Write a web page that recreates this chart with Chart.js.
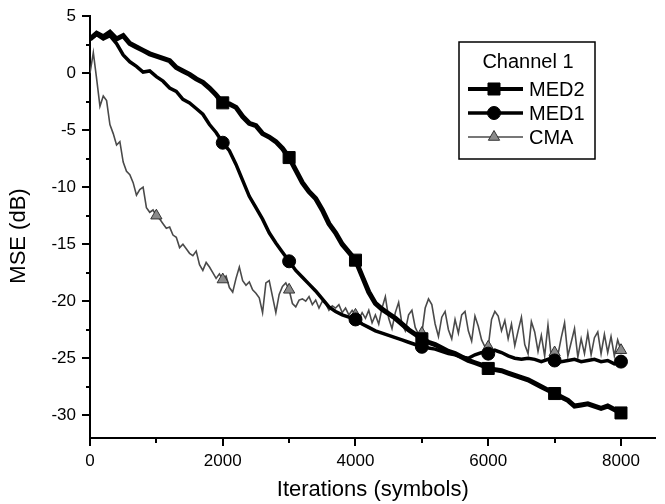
<!DOCTYPE html>
<html>
<head>
<meta charset="utf-8">
<script src="https://cdn.jsdelivr.net/npm/chart.js@4.4.1/dist/chart.umd.min.js"></script>
<style>
  body { margin: 0; background: #fff; }
  #wrap { width: 665px; height: 504px; }
</style>
</head>
<body>
<div id="wrap"><canvas id="mseChart" width="665" height="504"></canvas></div>
<script>
// sample spacing (iterations) of the traced curves
const medStep = 100;
const cmaStep = 50;

// MSE (dB), one value every 100 iterations, 0..8000
const med2Values = [
  3.0, 3.5, 3.2, 3.6, 3.0, 3.3, 2.6, 2.3, 2.0, 1.7,
  1.5, 1.3, 1.1, 0.5, 0.2, -0.1, -0.5, -0.8, -1.3, -1.9,
  -2.6, -2.7, -3.0, -3.8, -4.4, -4.6, -5.3, -5.6, -6.0, -6.6,
  -7.4, -8.5, -9.6, -10.4, -11.0, -12.0, -13.2, -14.0, -15.0, -15.7,
  -16.4, -17.8, -19.2, -20.2, -20.7, -21.1, -21.5, -22.0, -22.5, -22.9,
  -23.3, -23.6, -23.8, -24.1, -24.4, -24.6, -24.9, -25.2, -25.4, -25.6,
  -25.9, -26.0, -26.1, -26.3, -26.5, -26.7, -26.9, -27.2, -27.5, -27.8,
  -28.1, -28.4, -28.7, -29.2, -29.1, -29.0, -29.2, -29.4, -29.2, -29.5,
  -29.8
];

const med1Values = [
  3.0, 3.4, 3.0, 3.3, 2.6, 1.6, 1.0, 0.6, 0.1, 0.2,
  -0.3, -0.7, -1.3, -1.6, -2.3, -2.6, -3.1, -3.6, -4.5, -5.2,
  -6.1, -6.8, -8.0, -9.4, -10.8, -11.8, -12.8, -14.0, -14.9, -15.7,
  -16.5, -17.3, -17.9, -18.5, -19.1, -19.8, -20.5, -20.9, -21.2, -21.4,
  -21.6, -22.0, -22.3, -22.6, -22.8, -23.0, -23.2, -23.4, -23.6, -23.8,
  -24.0, -24.1, -24.2, -24.4, -24.6, -24.7, -24.9, -25.0, -24.7, -24.5,
  -24.6, -24.3, -24.5, -24.8, -25.0, -25.1, -25.0, -25.1, -25.3, -25.1,
  -25.2, -25.3, -25.2, -25.1, -25.3, -25.2, -25.1, -25.3, -25.2, -25.5,
  -25.3
];

// MSE (dB), one value every 50 iterations, 0..8000
const cmaValues = [
  0.0, 1.8, -0.5, -2.9, -2.0, -2.4, -4.5, -5.3, -6.3, -6.0, -7.8, -8.6, -8.9, -9.6, -10.7, -10.2, -10.0, -11.8, -12.2, -12.0,
  -12.5, -12.8, -13.2, -13.6, -13.5, -14.2, -14.4, -15.3, -15.0, -15.4, -15.8, -16.0, -15.6, -16.8, -17.3, -16.6, -17.0, -17.5, -18.0, -17.6,
  -18.1, -17.8, -18.8, -19.2, -18.0, -17.0, -18.2, -18.6, -18.3, -19.0, -19.3, -19.7, -21.0, -18.4, -18.2, -19.6, -21.0, -19.4, -18.7, -18.4,
  -19.0, -20.2, -20.5, -19.9, -19.8, -20.0, -19.6, -20.3, -19.9, -20.6, -20.0, -20.2, -20.8, -20.4, -20.6, -20.3, -21.0, -20.6, -21.2, -20.8,
  -21.2, -21.6, -21.0, -21.5, -20.8, -21.9, -21.2, -22.0, -20.6, -19.6, -21.5, -22.4, -21.0, -20.1, -22.0, -22.6, -21.2, -20.8, -22.3, -22.9,
  -22.8, -20.6, -19.8, -20.3, -22.0, -23.1, -21.4, -20.9, -22.5, -23.3, -21.6, -22.8, -21.2, -20.9, -22.6, -23.5, -21.3, -22.2, -23.4, -24.0,
  -24.0, -21.6, -20.9, -21.3, -22.6, -21.7, -23.3, -22.0, -23.9, -22.6, -21.4, -23.8, -24.6, -21.8, -22.7, -24.4, -23.0, -24.8, -22.1, -24.9,
  -24.5, -24.7, -23.2, -21.9, -24.8, -23.6, -22.4, -24.9, -23.3, -24.6, -22.8, -24.7, -23.2, -22.7, -24.6, -22.9, -24.5, -23.1, -24.8, -23.4,
  -24.3
];

const xTickValues = [0, 1000, 2000, 3000, 4000, 5000, 6000, 7000, 8000];
const xTickLabels = ['0', '', '2000', '', '4000', '', '6000', '', '8000'];
const yTickValues = [-30, -27.5, -25, -22.5, -20, -17.5, -15, -12.5, -10, -7.5, -5, -2.5, 0, 2.5, 5];
const seriesNames = ['MED2', 'MED1', 'CMA'];
const firstMarker = [2000, 2000, 1000];

const FONT = '"Liberation Sans", Arial, Helvetica, sans-serif';

function toPoints(values, step) {
  return values.map((v, i) => ({ x: i * step, y: v }));
}
// a marker every 1000 iterations
function markerRadius(r, from) {
  return ctx => {
    const p = ctx.raw;
    return p && p.x >= from && p.x % 1000 === 0 ? r : 0;
  };
}

const styles = [
  { color: '#000', width: 5, pointStyle: 'rect', radius: 8.5, fill: '#000', border: '#000' },
  { color: '#000', width: 3.5, pointStyle: 'circle', radius: 6.5, fill: '#000', border: '#000' },
  { color: '#4a4a4a', width: 1.6, pointStyle: 'triangle', radius: 6.5, fill: '#8a8a8a', border: '#333' }
];

// axis ticks: long at labelled values, short in between, plus the y title
const tickPlugin = {
  id: 'axisTicks',
  afterDraw(chart) {
    const { ctx, scales: { x, y } } = chart;
    ctx.save();
    ctx.strokeStyle = '#000';
    ctx.lineWidth = 2;
    xTickValues.forEach(v => {
      const px = Math.round(x.getPixelForValue(v));
      const len = v % 2000 === 0 ? 8 : 5;
      ctx.beginPath();
      ctx.moveTo(px, x.top);
      ctx.lineTo(px, x.top + len);
      ctx.stroke();
    });
    yTickValues.forEach(v => {
      const py = Math.round(y.getPixelForValue(v));
      const len = v % 5 === 0 ? 8 : 4;
      ctx.beginPath();
      ctx.moveTo(y.right, py);
      ctx.lineTo(y.right - len, py);
      ctx.stroke();
    });
    ctx.translate(19, 236);
    ctx.rotate(-Math.PI / 2);
    ctx.fillStyle = '#000';
    ctx.font = '22px ' + FONT;
    ctx.textAlign = 'center';
    ctx.textBaseline = 'middle';
    ctx.fillText('MSE (dB)', 0, 0);
    ctx.restore();
  }
};

// boxed legend with the "Channel 1" heading
const legendPlugin = {
  id: 'channelLegend',
  afterDraw(chart) {
    const ctx = chart.ctx;
    const left = 459, top = 42, w = 136, h = 117;
    ctx.save();
    ctx.fillStyle = '#fff';
    ctx.fillRect(left, top, w, h);
    ctx.strokeStyle = '#000';
    ctx.lineWidth = 1.5;
    ctx.strokeRect(left, top, w, h);
    ctx.fillStyle = '#000';
    ctx.font = '20px ' + FONT;
    ctx.textAlign = 'center';
    ctx.textBaseline = 'middle';
    ctx.fillText('Channel 1', left + 69, top + 20);
    ctx.textAlign = 'left';
    seriesNames.forEach((name, i) => {
      const s = styles[i];
      const cy = top + 47 + i * 24;
      ctx.strokeStyle = s.color;
      ctx.lineWidth = Math.min(s.width, 4);
      ctx.beginPath();
      ctx.moveTo(left + 9, cy);
      ctx.lineTo(left + 64, cy);
      ctx.stroke();
      ctx.fillStyle = s.fill;
      ctx.strokeStyle = s.border;
      ctx.lineWidth = 1;
      Chart.helpers.drawPoint(ctx, { pointStyle: s.pointStyle, radius: s.radius, rotation: 0, borderWidth: 1 }, left + 35, cy);
      ctx.fillStyle = '#000';
      ctx.fillText(name, left + 70, cy + 1);
    });
    ctx.restore();
  }
};

const datasets = [med2Values, med1Values, cmaValues].map((vals, i) => {
  const s = styles[i];
  return {
    label: seriesNames[i],
    data: toPoints(vals, i === 2 ? cmaStep : medStep),
    borderColor: s.color,
    borderWidth: s.width,
    borderJoinStyle: 'miter',
    pointStyle: s.pointStyle,
    pointRadius: markerRadius(s.radius, firstMarker[i]),
    pointBackgroundColor: s.fill,
    pointBorderColor: s.border,
    pointBorderWidth: 1,
    tension: 0,
    fill: false
  };
});

new Chart(document.getElementById('mseChart'), {
  type: 'line',
  data: { datasets: datasets },
  options: {
    responsive: false,
    devicePixelRatio: 1,
    animation: false,
    events: [],
    layout: { padding: { left: 0, right: 9, top: 15, bottom: 0 } },
    plugins: { legend: { display: false }, tooltip: { enabled: false } },
    scales: {
      x: {
        type: 'linear',
        min: 0,
        max: 8520,
        afterFit: s => { s.height = 66; },
        afterBuildTicks: s => { s.ticks = xTickValues.map(v => ({ value: v })); },
        grid: { display: false, drawTicks: true, tickLength: 8 },
        border: { display: true, color: '#000', width: 2 },
        ticks: {
          padding: 5,
          color: '#000',
          maxRotation: 0,
          autoSkip: false,
          font: { family: FONT, size: 17 },
          callback: (v, i) => xTickLabels[i]
        },
        title: {
          display: true,
          text: 'Iterations (symbols)',
          color: '#000',
          font: { family: FONT, size: 22 },
          padding: { top: 0, bottom: 1 }
        }
      },
      y: {
        min: -32,
        max: 5,
        afterFit: s => { s.width = 90; },
        afterBuildTicks: s => { s.ticks = yTickValues.map(v => ({ value: v })); },
        grid: { display: false, drawTicks: true, tickLength: 8 },
        border: { display: true, color: '#000', width: 2 },
        ticks: {
          padding: 6,
          color: '#000',
          autoSkip: false,
          font: { family: FONT, size: 17 },
          callback: v => (v % 5 === 0 ? String(v) : '')
        },
        title: { display: false }
      }
    }
  },
  plugins: [tickPlugin, legendPlugin]
});
</script>
</body>
</html>
